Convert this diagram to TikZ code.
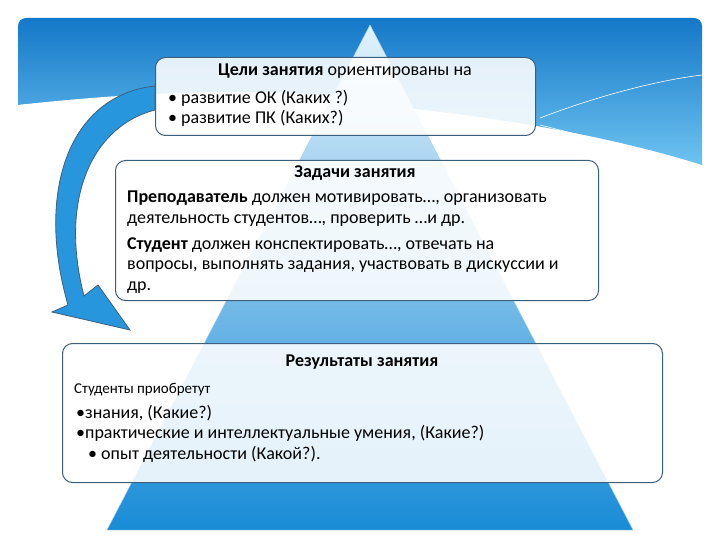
\documentclass[tikz,border=0pt]{standalone}
\usepackage{fontspec}
\setmainfont{Carlito}
\usetikzlibrary{arrows.meta}
\definecolor{arrowblue}{RGB}{40,150,220}
\definecolor{banA}{RGB}{20,120,200}
\definecolor{banB}{RGB}{110,195,240}
\definecolor{pyrA}{RGB}{225,242,252}
\definecolor{pyrB}{RGB}{25,140,215}
\definecolor{pyrE}{RGB}{170,210,235}
\definecolor{boxE}{RGB}{60,95,125}
\begin{document}
\begin{tikzpicture}[x=1pt,y=-1pt,
 box/.style={draw=boxE, line width=1pt, rounded corners=10pt, fill=white, fill opacity=0.88, text opacity=1},
 txt/.style={font=\fontsize{18}{20.5}\selectfont, align=left, anchor=north west, inner sep=0pt}]
\useasboundingbox (0,0) rectangle (720,540);
\fill[white] (0,0) rectangle (720,540);
% banner
\shade[top color=banA, bottom color=banB]
 [rounded corners=8pt] (18,105) -- (18,18) -- (702,18) [sharp corners] -- (702,165)
 .. controls (560,120) and (300,80) .. (18,105);
\fill[white] (18,105) .. controls (200,85) and (320,90) .. (400,105) -- (400,140) -- (18,140) -- cycle;
\draw[white, line width=0.6pt] (540,118) .. controls (600,95) and (660,80) .. (702,75);
\draw[white, line width=0.6pt] (540,125) .. controls (600,140) and (640,150) .. (670,160);
% pyramid
\shade[top color=pyrA, bottom color=pyrB, draw=pyrE]
 (370,25) -- (633,530) -- (107,530) -- cycle;
% boxes
\node[box, minimum width=380, minimum height=78, anchor=north west] (b1) at (155,57) {};
\node[box, minimum width=483, minimum height=140, anchor=north west] (b2) at (115,160) {};
\node[box, minimum width=600, minimum height=139, anchor=north west] (b3) at (62,343) {};
% texts
\node[txt, anchor=north] (t1) at (345,64) {\textbf{Цели занятия} ориентированы на};
\node[txt] (t1a) at (168,90) {• развитие ОК (Каких ?)\\• развитие ПК (Каких?)};
\node[txt, anchor=north] (t2) at (355,166) {\textbf{Задачи занятия}};
\node[txt] (t2a) at (127,191) {\textbf{Преподаватель} должен мотивировать…, организовать\\деятельность студентов…, проверить …и др.};
\node[txt] (t2b) at (127,237) {\textbf{Студент} должен конспектировать…, отвечать на\\вопросы, выполнять задания, участвовать в дискуссии и\\др.};
\node[txt, anchor=north] (t3) at (362,355) {\textbf{Результаты занятия}};
\node[txt, font=\fontsize{15}{17}\selectfont] (t3a) at (74,383) {Студенты приобретут};
\node[txt] (t3b) at (76,405) {•знания, (Какие?)\\•практические и интеллектуальные умения, (Какие?)\\\hspace*{12pt}• опыт деятельности (Какой?).};
% curved arrow
\fill[arrowblue, draw=boxE, line width=0.8pt]
 (155,86) .. controls (70,95) and (35,190) .. (68,305) -- (52,312) -- (130,330) -- (98,285) -- (84,296)
 .. controls (58,195) and (95,125) .. (155,110) -- cycle;
\end{tikzpicture}
\end{document}
